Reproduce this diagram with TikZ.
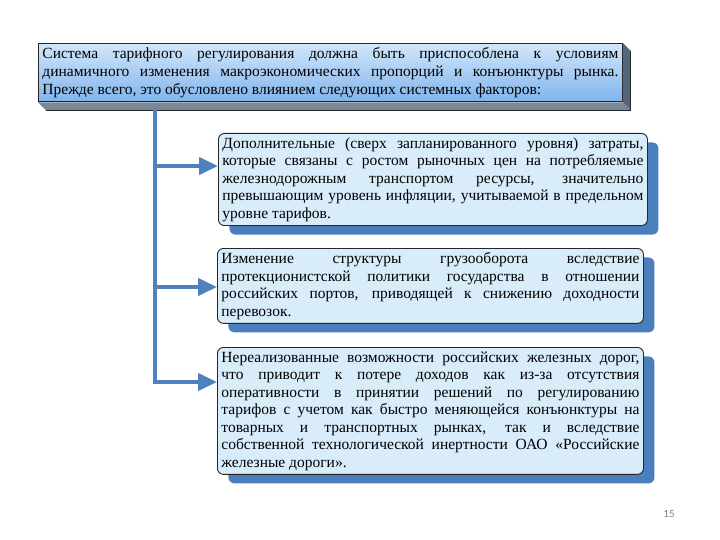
\documentclass[tikz,border=0pt]{standalone}
\usepackage{fontspec}
\setmainfont{Liberation Serif}
\newfontfamily\pagefont{Carlito}
\usetikzlibrary{arrows.meta,shadows}

\definecolor{boxfill}{HTML}{D8ECFA}
\definecolor{boxshade}{HTML}{4A7EBD}
\definecolor{flowblue}{HTML}{4F81BD}
\definecolor{headtop}{HTML}{D2E6FA}
\definecolor{headbottom}{HTML}{80B4EC}
\definecolor{sideface}{HTML}{55657A}
\definecolor{baseface}{HTML}{7A8797}

\tikzset{
  factor/.style={draw=black!85, line width=0.9pt, fill=boxfill, rounded corners=6pt,
    anchor=north west, inner sep=4pt, align=justify,
    font=\fontsize{15.5}{17.5}\selectfont,
    drop shadow={shadow xshift=11pt, shadow yshift=-9pt, fill=boxshade, opacity=1}},
  headbox/.style={draw=black!85, line width=0.9pt, top color=headtop, bottom color=headbottom,
    anchor=north west, inner sep=4pt, align=justify, text width=576pt,
    font=\fontsize{15.5}{18}\selectfont},
  flow/.style={draw=flowblue, line width=4pt, -{Triangle[length=19pt,width=17pt]}},
  trunk/.style={draw=flowblue, line width=4pt}
}

\begin{document}
\begin{tikzpicture}[x=1pt,y=-1pt]
  \useasboundingbox (0,0) rectangle (720,540);

  % top statement
  \node[headbox] (head) at (38,43) {Система тарифного регулирования должна быть приспособлена к условиям\linebreak
    динамичного изменения макроэкономических пропорций и конъюнктуры рынка.\linebreak
    Прежде всего, это обусловлено влиянием следующих системных факторов:};
  \fill[sideface] (head.north east) -- ++(8,8) -- ([shift={(8,8)}]head.south east) -- (head.south east) -- cycle;
  \fill[baseface] (head.south west) -- ++(8,8) -- ([shift={(8,8)}]head.south east) -- (head.south east) -- cycle;
  \draw[black!85, line width=0.9pt] ([shift={(8,8)}]head.south west) -- ([shift={(8,8)}]head.south east) -- ([shift={(8,8)}]head.north east);

  % factors
  \node[factor, text width=421pt] (cost) at (218,133) {Дополнительные (сверх запланированного уровня) затраты,\linebreak
    которые связаны с ростом рыночных цен на потребляемые\linebreak
    железнодорожным транспортом ресурсы, значительно\linebreak
    превышающим уровень инфляции, учитываемой в предельном\linebreak
    уровне тарифов.};
  \node[factor, text width=418pt] (ports) at (217,248) {Изменение структуры грузооборота вследствие\linebreak
    протекционистской политики государства в отношении\linebreak
    российских портов, приводящей к снижению доходности\linebreak
    перевозок.};
  \node[factor, text width=418pt] (rail) at (217,347) {Нереализованные возможности российских железных дорог,\linebreak
    что приводит к потере доходов как из-за отсутствия\linebreak
    оперативности в принятии решений по регулированию\linebreak
    тарифов с учетом как быстро меняющейся конъюнктуры на\linebreak
    товарных и транспортных рынках, так и вследствие\linebreak
    собственной технологической инертности ОАО «Российские\linebreak
    железные дороги».};

  % connectors
  \coordinate (j1) at (155,166);
  \coordinate (j2) at (155,287);
  \coordinate (j3) at (155,382);
  \coordinate (top) at ([yshift=-8pt]head.south west -| j1);
  \draw[trunk] (top) -- ([yshift=2pt]j3);
  \draw[flow] (j1) -- (cost.west |- j1);
  \draw[flow] (j2) -- (ports.west |- j2);
  \draw[flow] ([xshift=-2pt]j3) -- (rail.west |- j3);

  \node[text=black!50, font=\pagefont\fontsize{11}{13}\selectfont] (page) at (669,514) {15};
\end{tikzpicture}
\end{document}
